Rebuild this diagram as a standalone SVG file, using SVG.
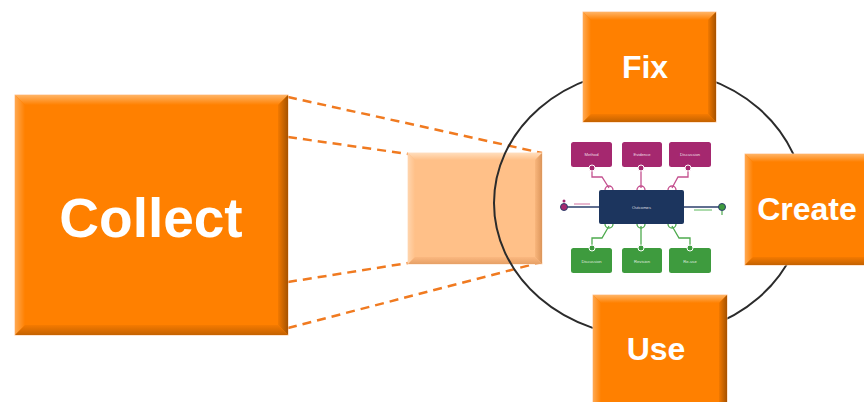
<svg xmlns="http://www.w3.org/2000/svg" width="864" height="402" viewBox="0 0 864 402">
<defs>
<linearGradient id="gT" x1="0" y1="0" x2="0" y2="1"><stop offset="0" stop-color="#FFB466"/><stop offset="1" stop-color="#FF8000"/></linearGradient>
<linearGradient id="gL" x1="0" y1="0" x2="1" y2="0"><stop offset="0" stop-color="#FFA850"/><stop offset="1" stop-color="#FF8000"/></linearGradient>
<linearGradient id="gR" x1="0" y1="0" x2="1" y2="0"><stop offset="0" stop-color="#F27900"/><stop offset="1" stop-color="#A65200"/></linearGradient>
<linearGradient id="gB" x1="0" y1="0" x2="0" y2="1"><stop offset="0" stop-color="#F57A00"/><stop offset="1" stop-color="#C46200"/></linearGradient>
<linearGradient id="lT" x1="0" y1="0" x2="0" y2="1"><stop offset="0" stop-color="#FFDDBC"/><stop offset="1" stop-color="#FFC088"/></linearGradient>
<linearGradient id="lL" x1="0" y1="0" x2="1" y2="0"><stop offset="0" stop-color="#FFD4AC"/><stop offset="1" stop-color="#FFC088"/></linearGradient>
<linearGradient id="lR" x1="0" y1="0" x2="1" y2="0"><stop offset="0" stop-color="#F9B67C"/><stop offset="1" stop-color="#DC955A"/></linearGradient>
<linearGradient id="lB" x1="0" y1="0" x2="0" y2="1"><stop offset="0" stop-color="#FBB880"/><stop offset="1" stop-color="#E6A066"/></linearGradient>
<style>
.face{fill:#FF8000;stroke:#FFC9A0;stroke-width:1}
.bt{fill:url(#gT)}
.bl{fill:url(#gL)}
.br{fill:url(#gR)}
.bb{fill:url(#gB)}
.lface{fill:#FFC088;stroke:#FFE2C8;stroke-width:1}
.lbt{fill:url(#lT)}
.lbl{fill:url(#lL)}
.lbr{fill:url(#lR)}
.lbb{fill:url(#lB)}
.big{font-family:"Liberation Sans",Arial,sans-serif;font-weight:bold;fill:#FFFFFF;text-anchor:middle}
.dash{stroke:#F07A20;stroke-width:2.5;stroke-dasharray:9 6;fill:none}
.mag{fill:#A5286F}
.grn{fill:#3E9B3E}
.mline{stroke:#C4508F;stroke-width:1.3;fill:none}
.gline{stroke:#4DAA4D;stroke-width:1.3;fill:none}
.tiny{font-family:"Liberation Sans",Arial,sans-serif;font-size:4.2px;fill:#FFFFFF;fill-opacity:0.85;text-anchor:middle}
</style>
</defs>
<rect width="864" height="402" fill="#FFFFFF"/>

<g id="connectors">
<line class="dash" x1="288" y1="97" x2="542" y2="153"/>
<line class="dash" x1="288" y1="137" x2="408" y2="154"/>
<line class="dash" x1="288" y1="282" x2="408" y2="263"/>
<line class="dash" x1="288" y1="328" x2="542" y2="262"/>
</g>

<g id="collect">
<rect x="15" y="95" width="273" height="240" class="face"/>
<polygon points="15,95 288,95 278,105 25,105" class="bt"/>
<polygon points="15,95 25,105 25,325 15,335" class="bl"/>
<polygon points="288,95 288,335 278,325 278,105" class="br"/>
<polygon points="15,335 288,335 278,325 25,325" class="bb"/>
<text x="151" y="237" class="big" font-size="55">Collect</text>
</g>

<g id="zoom-box">
<rect x="408" y="153" width="134" height="111" class="lface"/>
<polygon points="408,153 542,153 535,160 415,160" class="lbt"/>
<polygon points="408,153 415,160 415,257 408,264" class="lbl"/>
<polygon points="542,153 542,264 535,257 535,160" class="lbr"/>
<polygon points="408,264 542,264 535,257 415,257" class="lbb"/>
</g>

<g id="cycle">
<ellipse cx="649" cy="203" rx="155" ry="134" fill="none" stroke="#2B2B2B" stroke-width="2"/>
</g>

<g id="mini-diagram">
<path class="mline" d="M592,170 V177 H602 L609,188"/>
<path class="mline" d="M641,170 V188"/>
<path class="mline" d="M688,170 V177 H678 L672,188"/>
<path class="mline" d="M605,190 a4,4 0 0 1 8,0 M637,190 a4,4 0 0 1 8,0 M668,190 a4,4 0 0 1 8,0"/>
<path class="gline" d="M592,245 V238 H602 L609,226"/>
<path class="gline" d="M641,245 V226"/>
<path class="gline" d="M690,245 V238 H679 L672,226"/>
<path class="gline" d="M605,224 a4,4 0 0 0 8,0 M637,224 a4,4 0 0 0 8,0 M668,224 a4,4 0 0 0 8,0"/>
<rect x="571" y="142" width="41" height="25" rx="2.5" class="mag"/>
<rect x="622" y="142" width="40" height="25" rx="2.5" class="mag"/>
<rect x="669" y="142" width="42" height="25" rx="2.5" class="mag"/>
<text x="591.5" y="156" class="tiny">Method</text>
<text x="642" y="156" class="tiny">Evidence</text>
<text x="690" y="156" class="tiny">Discussion</text>
<circle cx="592" cy="168" r="3" class="mag" stroke="#FFFFFF" stroke-width="1"/>
<circle cx="641" cy="168" r="3" class="mag" stroke="#FFFFFF" stroke-width="1"/>
<circle cx="688" cy="168" r="3" class="mag" stroke="#FFFFFF" stroke-width="1"/>
<line x1="564" y1="207" x2="599" y2="207" stroke="#2B3F6B" stroke-width="1.3"/>
<line x1="684" y1="207" x2="722" y2="207" stroke="#2B3F6B" stroke-width="1.3"/>
<line x1="574" y1="204" x2="590" y2="204" stroke="#D0709F" stroke-width="1"/>
<line x1="694" y1="210" x2="712" y2="210" stroke="#5BB85B" stroke-width="1"/>
<circle cx="564" cy="207" r="3.5" class="mag" stroke="#2B3F6B" stroke-width="1"/>
<circle cx="564" cy="201" r="1.5" class="mag"/>
<circle cx="722" cy="207" r="3.5" class="grn" stroke="#2B3F6B" stroke-width="1"/>
<line x1="722" y1="211" x2="722" y2="215" stroke="#4DAA4D" stroke-width="1.2"/>
<rect x="599" y="190" width="85" height="34" rx="2" fill="#1C355E"/>
<text x="641.5" y="209" class="tiny" font-size="5">Outcomes</text>
<rect x="571" y="248" width="41" height="25" rx="2.5" class="grn"/>
<rect x="622" y="248" width="40" height="25" rx="2.5" class="grn"/>
<rect x="669" y="248" width="42" height="25" rx="2.5" class="grn"/>
<text x="591.5" y="263" class="tiny">Discussion</text>
<text x="642" y="263" class="tiny">Revision</text>
<text x="690" y="263" class="tiny">Re-use</text>
<circle cx="592" cy="248" r="3" class="grn" stroke="#FFFFFF" stroke-width="1"/>
<circle cx="641" cy="248" r="3" class="grn" stroke="#FFFFFF" stroke-width="1"/>
<circle cx="690" cy="248" r="3" class="grn" stroke="#FFFFFF" stroke-width="1"/>
</g>

<g id="fix">
<rect x="583" y="12" width="133" height="110" class="face"/>
<polygon points="583,12 716,12 708,20 591,20" class="bt"/>
<polygon points="583,12 591,20 591,114 583,122" class="bl"/>
<polygon points="716,12 716,122 708,114 708,20" class="br"/>
<polygon points="583,122 716,122 708,114 591,114" class="bb"/>
<text x="645" y="78" class="big" font-size="32">Fix</text>
</g>

<g id="create">
<rect x="745" y="154" width="133" height="111" class="face"/>
<polygon points="745,154 878,154 870,162 753,162" class="bt"/>
<polygon points="745,154 753,162 753,257 745,265" class="bl"/>
<polygon points="745,265 878,265 870,257 753,257" class="bb"/>
<text x="807" y="220" class="big" font-size="32">Create</text>
</g>

<g id="use">
<rect x="593" y="295" width="134" height="115" class="face"/>
<polygon points="593,295 727,295 719,303 601,303" class="bt"/>
<polygon points="593,295 601,303 601,410 593,410" class="bl"/>
<polygon points="727,295 727,410 719,410 719,303" class="br"/>
<text x="656" y="360" class="big" font-size="32">Use</text>
</g>
</svg>
